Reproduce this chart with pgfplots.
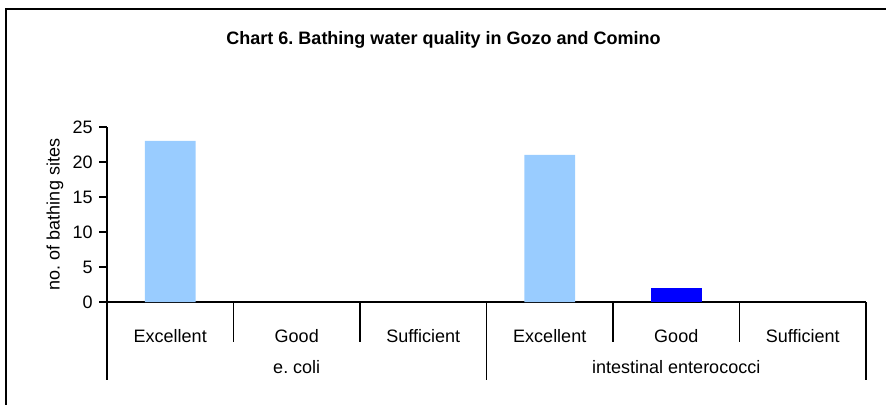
\documentclass[border=0pt]{standalone}
\usepackage{fontspec}
\setmainfont{Liberation Sans}
\usepackage{pgfplots}
\pgfplotsset{compat=1.18}

\definecolor{lightbar}{HTML}{99CCFF}
\definecolor{darkbar}{HTML}{0000FF}

\begin{document}
\frenchspacing
\fontsize{9}{11}\selectfont
\begin{tikzpicture}
  % page area: 886x405 px at 0.5pt per px, origin top-left
  \path[use as bounding box] (0,0) rectangle (443pt,-202.5pt);
  % outer frame (cut at right and bottom)
  \draw[line width=1.1pt] (3pt,-202.5pt) -- (3pt,-4.5pt) -- (443pt,-4.5pt);
  \node[font=\fontsize{9}{11}\selectfont\bfseries] at (221.75pt,-20pt)
    {Chart 6. Bathing water quality in Gozo and Comino};

  \begin{axis}[
      at={(53.5pt,-151pt)}, anchor=south west,
      scale only axis,
      width=379.5pt, height=87.5pt,
      xmin=-0.5, xmax=5.5,
      ymin=0, ymax=25,
      ytick={0,5,...,25},
      xtick={0,...,5},
      xticklabels={Excellent, Good, Sufficient, Excellent, Good, Sufficient},
      major x tick style={draw=none},
      xticklabel style={anchor=center, yshift=-13pt},
      tick align=outside,
      major tick length=4pt,
      axis x line*=bottom,
      axis y line*=left,
      axis line style={line width=0.9pt, -},
      tick style={line width=0.9pt, black},
      /pgf/number format/assume math mode=true,
      ylabel={no. of bathing sites},
      every axis y label/.style={at={(axis description cs:-0.0685,0.5)}, rotate=90, anchor=center},
      clip=false,
    ]
    \addplot[ybar, bar width=0.4, bar shift=0pt, fill=lightbar, draw=none]
      coordinates {(0,23) (3,21)};
    \addplot[ybar, bar width=0.4, bar shift=0pt, fill=darkbar, draw=none]
      coordinates {(4,2)};

    % category separators
    \draw[line width=0.9pt] (axis cs:0.5,0) -- ([yshift=-20pt]axis cs:0.5,0);
    \draw[line width=0.9pt] (axis cs:1.5,0) -- ([yshift=-20pt]axis cs:1.5,0);
    \draw[line width=0.9pt] (axis cs:3.5,0) -- ([yshift=-20pt]axis cs:3.5,0);
    \draw[line width=0.9pt] (axis cs:4.5,0) -- ([yshift=-20pt]axis cs:4.5,0);
    \draw[line width=0.9pt] (axis cs:-0.5,0) -- ([yshift=-39pt]axis cs:-0.5,0);
    \draw[line width=0.9pt] (axis cs:2.5,0) -- ([yshift=-39pt]axis cs:2.5,0);
    \draw[line width=0.9pt] (axis cs:5.5,0) -- ([yshift=-39pt]axis cs:5.5,0);
    \node at ([yshift=-32.5pt]axis cs:1,0) {e. coli};
    \node at ([yshift=-32.5pt]axis cs:4,0) {intestinal enterococci};
  \end{axis}
\end{tikzpicture}
\end{document}
